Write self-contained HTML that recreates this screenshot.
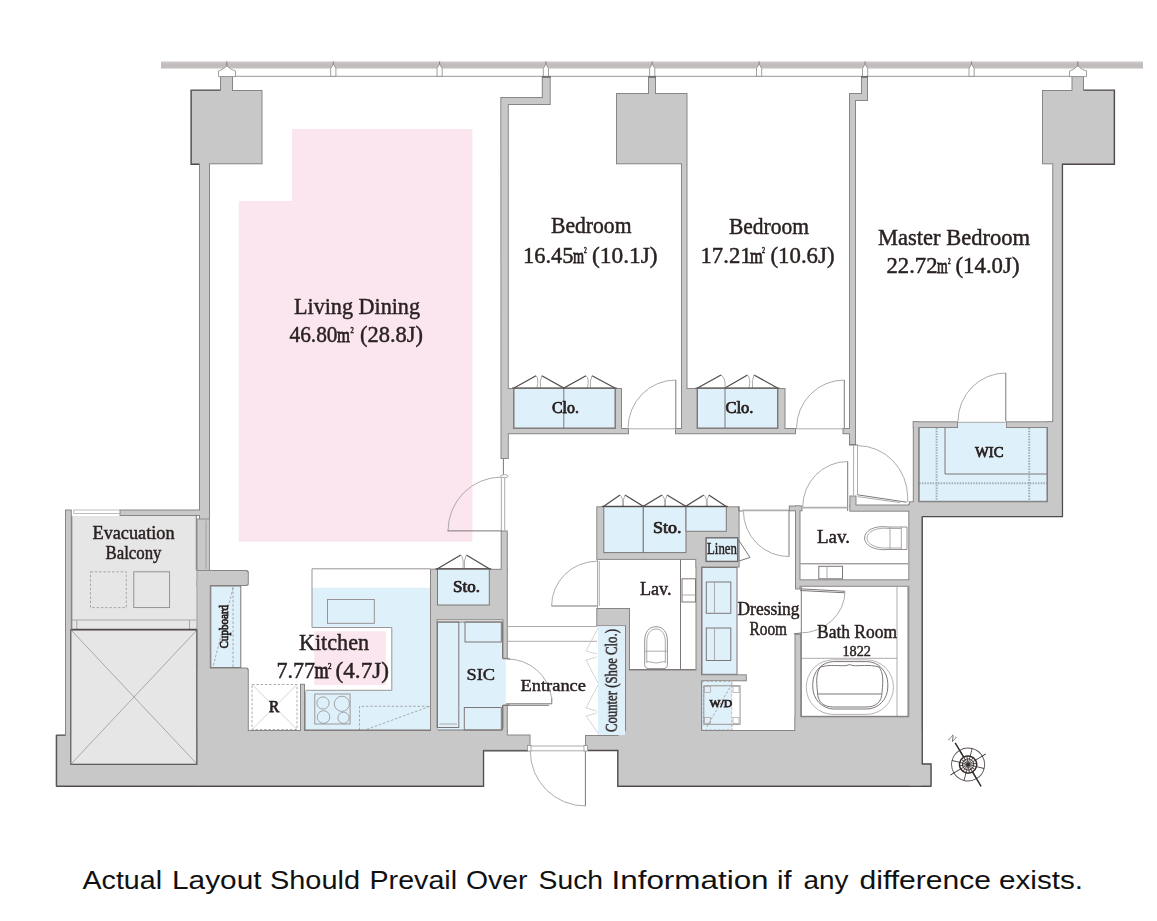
<!DOCTYPE html>
<html lang="en">
<head>
<meta charset="utf-8">
<title>Floor plan</title>
<style>
html,body{margin:0;padding:0;background:#ffffff;width:1157px;height:921px;overflow:hidden}
svg{display:block}
text{font-family:"Liberation Serif",serif;fill:#2a2121;stroke:#2a2121;stroke-width:0.45px}
.b{font-weight:normal;stroke-width:0.75px}
.ln{fill:none;stroke:#7d7777;stroke-width:1}
.lnl{fill:none;stroke:#a5a0a0;stroke-width:0.9}
.dk{fill:none;stroke:#514a4a;stroke-width:1.2}
.blue{fill:#def0fa}
.blo{fill:#def0fa;stroke:#7d7777;stroke-width:1}
.wh{fill:#ffffff;stroke:#7d7777;stroke-width:1}
.dash{fill:none;stroke:#9a9595;stroke-width:0.8;stroke-dasharray:2.5 1.8}
</style>
</head>
<body>
<svg width="1157" height="921" viewBox="0 0 1157 921">
<defs>
<linearGradient id="barg" x1="0" y1="0" x2="0" y2="1"><stop offset="0" stop-color="#d2cdcd"/><stop offset="0.35" stop-color="#c3bebe"/><stop offset="0.75" stop-color="#c1bcbc"/><stop offset="1" stop-color="#cbc6c6"/></linearGradient>
<filter id="er" x="-2%" y="-2%" width="104%" height="104%"><feMorphology operator="erode" radius="0.9"/></filter>
<g id="walls">
  <!-- column 1 + left wall -->
  <rect x="191" y="90" width="71.5" height="74.3"/>
  <rect x="220" y="76" width="13" height="15"/>
  <rect x="199" y="164" width="11" height="356"/>
  <!-- living/bed1 wall + closet 1 surround -->
  <polygon points="500.3,97 541.8,97 541.8,76 550.7,76 550.7,105 508.8,105 508.8,388 514,388 514,428 615,428 615,388 622,388 622,428 629,428 629,434.3 508.8,434.3 508.8,459 500.5,459"/>
  <!-- column 2 + wall + closet 2 -->
  <rect x="616" y="93" width="71.5" height="71.3"/>
  <rect x="648" y="76" width="8" height="18"/>
  <polygon points="681,164 687.5,164 687.5,388 697.5,388 697.5,428 777.5,428 777.5,388 785.5,388 785.5,428 796,428 796,434.3 675,434.3 675,428 681,428"/>
  <!-- bed2/master wall -->
  <polygon points="849,93 861,93 861,76 868,76 868,101 856,101 856,445 849,445 849,434.3 842.5,434.3 842.5,428 849,428"/>
  <!-- column 3 + master right wall -->
  <rect x="1042" y="90" width="72.5" height="74.3"/>
  <rect x="1071.5" y="76" width="12.5" height="15"/>
  <rect x="1052.2" y="164" width="10.6" height="353"/>
  <!-- WIC surround -->
  <rect x="912.8" y="421.3" width="45.2" height="6.7"/>
  <rect x="1005.8" y="421.3" width="47" height="6.7"/>
  <rect x="912.8" y="421.3" width="6.4" height="90"/>
  <rect x="1047" y="421.3" width="6" height="90"/>
  <rect x="908.8" y="501.3" width="154" height="15.7"/>
  <!-- right vertical wall -->
  <rect x="908.3" y="503.8" width="14.2" height="282.7"/>
  <rect x="908.3" y="763.8" width="23" height="22.7"/>
  <!-- right Lav walls -->
  <rect x="849.4" y="504.5" width="60" height="7.2"/>
  <rect x="849.4" y="495.5" width="7.1" height="12"/>
  <rect x="788.8" y="505.5" width="13.7" height="5.8"/>
  <rect x="795" y="505.5" width="5.5" height="84"/>
  <rect x="795" y="579.3" width="114" height="7.5"/>
  <!-- bath walls -->
  <rect x="794.5" y="633.8" width="6.8" height="97"/>
  <rect x="794.5" y="716.3" width="120" height="20"/>
  <!-- bottom mass right -->
  <rect x="617.5" y="730" width="305" height="56.5"/>
  <rect x="585" y="735" width="45" height="15.5"/>
  <rect x="625" y="608" width="5" height="130"/>
  <rect x="596.3" y="608" width="33.3" height="18.3"/>
  <rect x="629.5" y="669.5" width="72.5" height="62"/>
  <rect x="695.5" y="559" width="6.5" height="112"/>
  <rect x="702" y="674.3" width="44.8" height="7"/>
  <!-- Sto x3 surround -->
  <rect x="596.3" y="506.3" width="143.3" height="53.6"/>
  <rect x="695.5" y="559" width="44.1" height="8.5"/>
  <!-- kitchen / SIC -->
  <rect x="430" y="568.8" width="77.8" height="51.5"/>
  <rect x="430" y="568.8" width="7.5" height="163"/>
  <rect x="500.7" y="530.5" width="7.1" height="40"/>
  <rect x="502.5" y="620" width="5.3" height="38.8"/>
  <rect x="502.5" y="705" width="5.3" height="27"/>
  <rect x="437" y="727.5" width="66" height="4"/>
  <rect x="300" y="683.8" width="5" height="47"/>
  <!-- bottom mass left -->
  <rect x="196.3" y="730" width="287.5" height="56.5"/>
  <polygon points="483,730 507.8,730 507.8,734.5 530.5,734.5 530.5,750.8 483,750.8"/>
  <rect x="56.3" y="735" width="16" height="51.5"/>
  <rect x="65" y="509.5" width="6.8" height="230"/>
  <rect x="70" y="764" width="130" height="22.5"/>
  <rect x="119.5" y="509.5" width="80" height="6.5"/>
  <rect x="196.3" y="580" width="14.5" height="152"/>
  <path d="M196.3,667.5 H246.3 Q248.8,667.5 248.8,670 V732 H196.3 Z"/>
  <path d="M196.3,570 H246.3 Q248.8,570 248.8,572.5 V583.5 Q248.8,586 246.3,586 H196.3 Z"/>
</g>
</defs>

<!-- pink living area -->
<polygon points="292,129 472.4,129 472.4,541.8 238.8,541.8 238.8,201 292,201" fill="#fbe6ef"/>

<!-- top bar -->
<rect x="161" y="61.4" width="982" height="7.2" fill="url(#barg)"/>
<line x1="233" y1="76.3" x2="1072" y2="76.3" stroke="#8f8a8a" stroke-width="0.9"/>

<!-- walls: stroke pass then fill pass -->
<use href="#walls" fill="#8a8585" stroke="none"/>
<use href="#walls" fill="#c8c8c8" stroke="none" filter="url(#er)"/>

<!--FILLS-->
<g id="fills">
<!-- balcony -->
<rect x="71.8" y="516" width="124.5" height="114" fill="#e6e6e6"/>
<rect x="73.8" y="510" width="46" height="3.5" fill="#ffffff" stroke="#a5a0a0" stroke-width="0.7"/>
<rect x="70.8" y="630" width="126" height="134.3" fill="#e6e6e6" stroke="#5e5858" stroke-width="1.2"/>
<!-- left window section -->
<rect x="197" y="519" width="12.4" height="51.5" fill="#c8c8c8" stroke="#8b8686" stroke-width="0.9"/>
<line x1="206" y1="520.5" x2="206" y2="569" stroke="#9a9595" stroke-width="0.8"/>
<!-- cupboard -->
<rect x="210.8" y="586" width="30" height="81.5" class="blo"/>
<!-- R box -->
<rect x="251.5" y="684" width="46" height="46" fill="#ffffff"/>
<!-- kitchen -->
<polygon points="312,587.5 430,587.5 430,730 305,730 305,691.3 312,691.3" class="blue"/>
<rect x="312" y="568.8" width="118" height="18.7" fill="#ffffff"/>
<rect x="305.5" y="627.5" width="86.3" height="62.8" fill="#ffffff"/>
<rect x="314.3" y="631.3" width="71.5" height="53.7" fill="#fbe6ef"/>
<!-- Sto (kitchen) -->
<rect x="437.5" y="568.8" width="51.8" height="36.2" class="blo"/>
<!-- SIC -->
<rect x="437.5" y="622" width="65" height="108" class="blue"/>
<rect x="502" y="659.5" width="3.8" height="45" class="blue"/>
<!-- closets -->
<rect x="514" y="388.3" width="101" height="39.7" class="blo" stroke-width="1.2"/>
<rect x="697.5" y="388.3" width="80" height="39.7" class="blo" stroke-width="1.2"/>
<!-- WIC -->
<rect x="919.2" y="428" width="127.8" height="73.3" class="blue"/>
<rect x="958" y="422" width="47.8" height="7" class="blue"/>
<!-- Sto x3 -->
<rect x="603.8" y="506.8" width="39.5" height="45.8" class="blo" stroke-width="1.3"/>
<rect x="643.3" y="506.8" width="42.7" height="45.8" class="blo" stroke-width="1.3"/>
<rect x="686" y="506.8" width="40.3" height="24.5" class="blo" stroke-width="1.3"/>
<rect x="706.1" y="537.8" width="31.6" height="23.6" fill="#def0fa" stroke="#6f6969" stroke-width="1.4"/>
<!-- dressing cabinet -->
<rect x="702" y="567.5" width="35" height="106.8" class="blo"/>
<!-- W/D -->
<rect x="702" y="681.3" width="30" height="48.7" class="blue"/>
<!-- counter shoe -->
<rect x="598" y="626.3" width="27" height="108.7" class="blue"/>
</g>
<!--LINES-->
<g id="lines">
<!-- top window mullions -->
<g fill="#ffffff" stroke="#8b8686" stroke-width="0.8">
<path d="M330.7,76.3 V68.5 L333.3,64 L335.9,68.5 V76.3 Z"/><path d="M437.0,76.3 V68.5 L439.6,64 L442.2,68.5 V76.3 Z"/>
<path d="M543.3,76.3 V68.5 L545.9,64 L548.5,68.5 V76.3 Z"/><path d="M649.6,76.3 V68.5 L652.2,64 L654.8000000000001,68.5 V76.3 Z"/>
<path d="M756.5,76.3 V68.5 L759.1,64 L761.7,68.5 V76.3 Z"/><path d="M862.5,76.3 V68.5 L865.1,64 L867.7,68.5 V76.3 Z"/>
<path d="M969.0,76.3 V68.5 L971.6,64 L974.2,68.5 V76.3 Z"/>
<path d="M218.5,76.6 V71 L222,69.5 L226.8,66 L231.5,69.5 L235.5,71 V76.6 Z"/>
<path d="M1069.5,76.6 V71 L1073,69.5 L1077.8,66 L1082.5,69.5 L1086.5,71 V76.6 Z"/>
</g>
<g stroke="#6f6969" stroke-width="0.8" fill="none">
<path d="M226.8,66 V61.5 M333.3,64 V61.5 M439.6,64 V61.5 M545.9,64 V61.5 M652.2,64 V61.5 M759.1,64 V61.5 M865.1,64 V61.5 M971.6,64 V61.5 M1077.8,66 V61.5"/>
<path d="M542,77 H550.6 M648.6,77 H656 M861,77 H868" stroke="#6a6464" stroke-width="1.5"/>
</g>
<!-- column dark outlines -->
<path d="M220,90 H191 V164.3 H199" class="dk"/>
<path d="M1084,90 H1114.5 V164.3 H1062.5 V516.7 H922.5" class="dk" stroke-width="1"/>

<!-- closet 1 -->
<line x1="563.8" y1="388" x2="563.8" y2="428" class="ln" stroke-width="1.2"/>
<path d="M514,388 L536,375.8 M541.8,375.8 L563.8,388 L586,375.8 M592,375.8 L615,388" class="dk" stroke-width="1"/>
<path d="M536,375.8 Q539,378 537,388 M541.8,375.8 Q539.5,380 540.5,388 M586,375.8 Q589.5,378 587.5,388 M592,375.8 Q589.5,380 590.5,388" class="lnl"/>
<line x1="512" y1="388" x2="617" y2="388" class="dk"/>
<!-- door 1 -->
<path d="M628,428.5 A47.8,48.5 0 0 1 675.8,380" class="lnl"/>
<path d="M675.8,380 V429" class="ln" stroke-width="1.1"/>
<path d="M627,428.8 H676" class="lnl" stroke-width="1.1"/>
<!-- closet 2 -->
<line x1="725" y1="388" x2="725" y2="428" class="ln" stroke-width="1.2"/>
<path d="M697.5,388 L721,375 M725,388 L747.5,375 M754,375 L777.5,388" class="dk" stroke-width="1"/>
<path d="M721,375 Q726,378 725,388 M747.5,375 Q751,378 749,388 M754,375 Q751.5,380 752.5,388" class="lnl"/>
<line x1="695.5" y1="388" x2="779.5" y2="388" class="dk"/>
<!-- door 2 -->
<path d="M796.5,428.5 A47.8,48.5 0 0 1 844.3,380" class="lnl"/>
<path d="M844.3,380 V429" class="ln" stroke-width="1.1"/>
<path d="M796,428.8 H845" class="lnl" stroke-width="1.1"/>

<!-- master door -->
<path d="M853.6,445.5 V495 M857.5,445.5 V495" class="lnl"/>
<path d="M849,445 H858" class="ln"/>
<path d="M857.5,445.6 A50.2,52 0 0 1 907.7,497.6 V502" class="lnl"/>
<path d="M857.5,494.8 L906.6,502.2" class="ln" stroke-width="1"/><path d="M857.5,496.6 L900,502.6" class="lnl" stroke-width="0.6"/>
<!-- lav (right) door -->
<path d="M847.7,461.5 V511" class="ln" stroke-width="1.2"/>
<path d="M847.7,461.5 A45,45.5 0 0 0 802.7,507" class="lnl"/>
<path d="M802.7,507.6 H847.5" fill="none" stroke="#b3aeae" stroke-width="1.8"/>
<!-- dressing door -->
<path d="M742,510.3 H789" fill="none" stroke="#b3aeae" stroke-width="1.7"/>
<path d="M789,510.5 V556.6" class="ln" stroke-width="1.2"/>
<path d="M743.4,511 A45.6,45.6 0 0 0 789,556.6" class="lnl"/>
<path d="M738.8,506.3 V511 H742" class="ln"/>

<!-- WIC -->
<path d="M958,421.3 A47.8,48.3 0 0 1 1005.8,373" class="lnl"/>
<path d="M1005.8,373 V421.3" class="ln"/>
<path d="M958,422.3 H1005.8" class="lnl"/>
<path d="M945,428 V474 H1047" class="ln"/>
<path d="M936.6,428 V501 M1029.2,428 V501 M919.2,483.3 H1047" fill="none" stroke="#a3adb6" stroke-width="2" stroke-dasharray="1.5 1.2"/>
<path d="M919.2,428 V501.3 H1047 V428" class="ln"/>

<!-- living sliding door -->
<path d="M503.4,459 V474.5" class="ln" stroke-width="1.3"/>
<path d="M501.4,477.5 V531 M504.7,477.5 V531" class="lnl"/>
<ellipse cx="504.4" cy="476.2" rx="3.7" ry="1.5" fill="#ffffff" stroke="#8b8686" stroke-width="0.7"/>
<!-- living door -->
<path d="M448,530.9 A53.3,53.8 0 0 1 501.3,477.1" class="lnl"/>
<path d="M447.5,530.9 H501.5" class="ln" stroke-width="1.1"/>

<!-- Sto kitchen -->
<path d="M437.5,568.8 L460.8,555 M466.3,555 L489.3,568.8" class="dk" stroke-width="1"/>
<path d="M460.8,555 Q464,558 463,568.8 M466.3,555 Q463.5,560 464.5,568.8" class="lnl"/>
<line x1="435.5" y1="568.8" x2="491.3" y2="568.8" class="dk"/>

<!-- kitchen counter outline -->
<path d="M430,568.8 H312 V627.5 H391.8 V690.3 H305.5" fill="none" stroke="#9a9595" stroke-width="1"/>
<rect x="327.5" y="599.5" width="46.8" height="23.8" fill="none" stroke="#8f8a8a" stroke-width="0.9"/>
<!-- cooktop -->
<rect x="314.8" y="694" width="35.3" height="30" fill="none" stroke="#959090" stroke-width="0.9"/>
<g fill="none" stroke="#959090" stroke-width="0.8">
<circle cx="323" cy="703" r="6.1"/><circle cx="341.9" cy="703.8" r="7.6"/>
<circle cx="323.5" cy="717" r="6.3"/><circle cx="343.5" cy="717.8" r="5.6"/>
</g>
<path d="M359.5,730 V706.3 H430 L365,730" class="dash"/>
<path d="M305,730 H430" class="ln"/>
<path d="M305,691.3 V730" class="ln"/>
<!-- R box -->
<rect x="252" y="684.5" width="45" height="45" class="dash"/>
<path d="M252,684.5 L297,729.5 M297,684.5 L252,729.5" fill="none" stroke="#c4c0c0" stroke-width="0.7"/>
<!-- cupboard -->
<path d="M233,587 V667 M233,588 L213,667" class="dash"/>

<!-- SIC -->
<rect x="437.5" y="622" width="21.3" height="105.5" class="ln"/>
<path d="M439.5,724 H457" class="lnl"/>
<rect x="465" y="622" width="36.3" height="20" class="ln"/>
<rect x="464.3" y="707.5" width="37" height="22.5" class="ln"/>
<path d="M437.5,622 H502.5 V658.8 M502.5,705 V730 H437.5" class="ln"/>
<!-- SIC door -->
<path d="M507,659 A44.5,44 0 0 1 551.5,697.5" class="lnl"/>
<path d="M506,703.8 H551.8 V697.5 M506,705.3 H549" class="ln" stroke-width="0.8"/>
<path d="M503,658.8 H510 M503,705 H510" class="ln"/>
<!-- entrance hall lines -->
<path d="M597,626.5 H507.6 V641.3 H597" class="lnl"/>
<!-- main door -->
<path d="M527.5,746 H587.5 M527.5,750.8 H587.5" class="lnl"/>
<rect x="527.5" y="745.5" width="3.5" height="5.5" fill="#ffffff" stroke="#8b8686" stroke-width="0.7"/>
<rect x="584" y="745.5" width="3.5" height="5.5" fill="#ffffff" stroke="#8b8686" stroke-width="0.7"/>
<path d="M585.4,751.3 V806" class="ln" stroke-width="1.2"/>
<path d="M530.3,751.3 A55.1,54.7 0 0 0 585.4,806" class="lnl"/>
<!-- shoe closet bifold -->
<path d="M598,628 L586,651 L597,654 M597,657 L586,660 L598,683 M598,685 L586,708 L597,711 M597,713 L586,716 L598,733" fill="none" stroke="#cdc9c9" stroke-width="0.8"/>

<!-- left Lav -->
<path d="M597.5,559.5 V608 M599.3,561 V606" class="lnl"/>
<path d="M551.6,606 A45.6,44.8 0 0 1 597.2,561.2" class="lnl"/>
<path d="M551.6,606 H597.5" class="ln" stroke-width="1.1"/>
<path d="M680.5,559.5 V669.5 M629.5,669.5 H695.5" class="ln"/>
<rect x="682" y="578.8" width="13.5" height="23.2" class="wh" stroke-width="0.8"/>
<path d="M682,595 H695.5" class="lnl"/>
<!-- toilet left -->
<path d="M644.7,664.5 V641 C644.7,632 649,626.7 656,626.7 C663,626.7 667.4,632 667.4,641 V664.5 Q667.4,668.6 663.3,668.6 H648.8 Q644.7,668.6 644.7,664.5 Z" fill="#ffffff" stroke="#8b8686" stroke-width="0.9"/>
<path d="M646.8,663 V641.5 C646.8,634 650.5,629 656,629 C661.5,629 665.3,634 665.3,641.5 V663" class="lnl"/>
<path d="M645,651.2 H667 M647,661.5 Q656,664.5 665,661.5" class="lnl"/>
<!-- dressing cabinet sinks -->
<rect x="706.3" y="582" width="24.5" height="31.3" class="ln" stroke-width="0.9"/>
<line x1="714.5" y1="582" x2="714.5" y2="613.3" class="lnl"/>
<rect x="706.3" y="628" width="24.5" height="32.5" class="ln" stroke-width="0.9"/>
<line x1="714.5" y1="628" x2="714.5" y2="660.5" class="lnl"/>
<!-- linen door -->
<path d="M737.5,538.3 L750,557.5 L739,561" class="ln" stroke-width="0.9"/>
<!-- Sto x3 doors -->
<path d="M603.8,506.3 L620,495 M625,495 L643.3,506.3 L662,495 M667,495 L685.8,506.3 L703.8,495 M708.8,495 L725.8,506.3" class="dk" stroke-width="1"/>
<path d="M620,495 Q623.5,498 622.5,506.3 M625,495 Q622.5,499 623.5,506.3 M662,495 Q665.5,498 664.5,506.3 M667,495 Q664.5,499 665.5,506.3 M703.8,495 Q707.3,498 706.3,506.3 M708.8,495 Q706.3,499 707.3,506.3" class="lnl"/>
<line x1="601.8" y1="506.3" x2="727.8" y2="506.3" class="dk"/>

<!-- W/D -->
<rect x="702" y="681.3" width="30" height="48.7" class="dash"/>
<rect x="703.8" y="685.8" width="36.2" height="38.5" fill="none" stroke="#a5a0a0" stroke-width="0.8"/>
<rect x="732.3" y="686.3" width="7.4" height="37.5" fill="#ffffff" stroke="none"/>
<rect x="703.8" y="685.8" width="36.2" height="38.5" fill="none" stroke="#a5a0a0" stroke-width="0.8"/>
<g fill="none" stroke="#a5a0a0" stroke-width="0.7">
<rect x="704.5" y="686.5" width="6" height="6"/><rect x="733" y="686.5" width="6" height="6"/>
<rect x="704.5" y="717.5" width="6" height="6"/><rect x="733" y="717.5" width="6" height="6"/>
</g>
<path d="M732,684 L706,728" class="dash"/>

<!-- right Lav -->
<path d="M800.5,563.8 H908" class="ln" stroke-width="0.9"/>
<rect x="818.8" y="566.3" width="23.7" height="12.5" class="wh" stroke-width="0.9"/>
<line x1="827" y1="566.3" x2="827" y2="578.8" class="lnl"/>
<path d="M907,527 H888 C874,525 864.5,531 864.5,538 C864.5,545 874,551 888,549.5 H907 Z" fill="#ffffff" stroke="#8b8686" stroke-width="0.9"/>
<path d="M901.3,528.5 H889 C876,527 867,532 867,538 C867,544 876,549 889,548 H901.3" class="lnl"/>
<path d="M890,527 V549.5 M901.3,527 V549.5" class="lnl"/>

<!-- bath -->
<path d="M897,587 V716.3 M801.3,658.3 H897" class="lnl"/>
<path d="M801.3,587 V716.3 H908 V587" class="ln" stroke-width="0.9"/>
<path d="M800,588.8 L845,591.3 M800,590.5 L845,592.8" class="ln" stroke-width="0.7"/>
<path d="M845,591.5 A45,42 0 0 1 800,633" class="lnl"/>
<path d="M793.8,633.8 L801,633" class="ln"/>
<rect x="806.3" y="659.8" width="87.1" height="54.6" rx="27" ry="27" fill="#ffffff" stroke="#a5a0a0" stroke-width="0.8"/>
<rect x="812.8" y="661.6" width="75" height="47.4" rx="21" ry="22" class="ln" stroke-width="0.9"/>
<path d="M817.5,692 C816,680 816.5,672 820.5,667 C830,664.2 840,666.2 846,665.6 L849.5,664.6 L853,665.6 C859,666.2 869,664.2 879,667 C883,672 883.5,680 882,692 C882,702 876,707 866,707 H833.5 C823.5,707 817.5,702 817.5,692 Z" class="ln" stroke-width="0.9"/>
<path d="M817.8,694 H881.8" class="ln" stroke-width="1"/>

<!-- balcony -->
<rect x="90.5" y="571.8" width="35.8" height="35.8" class="dash" fill="none"/>
<rect x="133.8" y="571.8" width="35.8" height="35.8" fill="none" stroke="#8f8a8a" stroke-width="0.9"/>
<path d="M71.8,620 H196.3 M76.8,620 V629 M189.5,620 V629" class="lnl"/>
<path d="M70.8,629.3 H196.8" class="dk" stroke-width="1.6" stroke="#6b6565"/>
<path d="M72,631 L196,763 M196,631 L72,763" class="lnl" stroke-width="0.8"/>
<path d="M71.8,516 V630 M196.3,516 V570" class="ln"/>
<path d="M56.3,735 H65 M56.3,735 V786.5" class="dk" stroke-width="1"/>
<path d="M56.3,786.3 H483.6 V750.9 H527.5" class="dk" stroke-width="1"/>
<path d="M588,750.6 H617.7 V786.3 H931.3" class="dk" stroke-width="1"/>
<path d="M922.3,516.7 V763.8 H931.1 V786.3" class="dk" stroke-width="1"/>

<!-- compass -->
<g transform="translate(968.1,764.5) rotate(-30.8)" stroke="#352c2c" fill="none" opacity="0.999">
<circle r="16.5" stroke="#5d5555" stroke-width="0.9"/>
<path d="M0.00,-8.50 L0.00,-16.50 M6.01,-6.01 L11.67,-11.67 M8.50,-0.00 L16.50,-0.00 M6.01,6.01 L11.67,11.67 M0.00,8.50 L0.00,16.50 M-6.01,6.01 L-11.67,11.67 M-8.50,0.00 L-16.50,0.00 M-6.01,-6.01 L-11.67,-11.67 " stroke="#4a4242" stroke-width="0.9"/>
<circle r="8.6" stroke-width="1.5"/>
<circle r="5.6" stroke-width="0.9"/>
<path d="M-0.00,8.50 L0.00,-8.50 M-3.25,7.85 L3.25,-7.85 M-6.01,6.01 L6.01,-6.01 M-7.85,3.25 L7.85,-3.25 M-8.50,0.00 L8.50,-0.00 M-7.85,-3.25 L7.85,3.25 M-6.01,-6.01 L6.01,6.01 M-3.25,-7.85 L3.25,7.85 " stroke-width="0.75"/>
<circle r="1.6" fill="#352c2c" stroke="none"/>
<path d="M0,-8 V-25.2 M0,8 V25.4" stroke-width="1.5"/>
<path d="M-20.6,0 H-16 M16,0 H20.6" stroke-width="0.9"/>
<text x="-3.6" y="-27.2" font-size="9.5" textLength="7" lengthAdjust="spacingAndGlyphs" style="font-family:'Liberation Serif',serif;font-style:italic;fill:#6a6262;stroke:none" transform="rotate(62 0 -30.5)">N</text>
</g>
</g>
<!--TEXT-->
<g id="btext" style="font-family:'Liberation Sans',sans-serif;fill:#111111;stroke:none" font-size="26.3">
<text x="82.50" y="888.8" textLength="79.51" lengthAdjust="spacingAndGlyphs" style="font-family:'Liberation Sans',sans-serif;fill:#111111;stroke:none">Actual</text>
<text x="172.00" y="888.8" textLength="89.50" lengthAdjust="spacingAndGlyphs" style="font-family:'Liberation Sans',sans-serif;fill:#111111;stroke:none">Layout</text>
<text x="270.00" y="888.8" textLength="90.06" lengthAdjust="spacingAndGlyphs" style="font-family:'Liberation Sans',sans-serif;fill:#111111;stroke:none">Should</text>
<text x="369.50" y="888.8" textLength="87.59" lengthAdjust="spacingAndGlyphs" style="font-family:'Liberation Sans',sans-serif;fill:#111111;stroke:none">Prevail</text>
<text x="466.00" y="888.8" textLength="61.50" lengthAdjust="spacingAndGlyphs" style="font-family:'Liberation Sans',sans-serif;fill:#111111;stroke:none">Over</text>
<text x="538.50" y="888.8" textLength="64.56" lengthAdjust="spacingAndGlyphs" style="font-family:'Liberation Sans',sans-serif;fill:#111111;stroke:none">Such</text>
<text x="611.50" y="888.8" textLength="157.09" lengthAdjust="spacingAndGlyphs" style="font-family:'Liberation Sans',sans-serif;fill:#111111;stroke:none">Information</text>
<text x="777.00" y="888.8" textLength="14.55" lengthAdjust="spacingAndGlyphs" style="font-family:'Liberation Sans',sans-serif;fill:#111111;stroke:none">if</text>
<text x="803.50" y="888.8" textLength="45.00" lengthAdjust="spacingAndGlyphs" style="font-family:'Liberation Sans',sans-serif;fill:#111111;stroke:none">any</text>
<text x="859.50" y="888.8" textLength="131.52" lengthAdjust="spacingAndGlyphs" style="font-family:'Liberation Sans',sans-serif;fill:#111111;stroke:none">difference</text>
<text x="999.00" y="888.8" textLength="84.12" lengthAdjust="spacingAndGlyphs" style="font-family:'Liberation Sans',sans-serif;fill:#111111;stroke:none">exists.</text>
</g>
<g id="labels" opacity="0.999">
<text x="294.0" y="314" font-size="22.8" textLength="126.0" lengthAdjust="spacingAndGlyphs">Living Dining</text>
<text x="289.5" y="342" font-size="22.8" textLength="48.03" lengthAdjust="spacingAndGlyphs">46.80</text>
<text x="337.0" y="342" font-size="22" textLength="13.0" lengthAdjust="spacingAndGlyphs" style="stroke-width:0.8px">m</text>
<text x="350.5" y="332.7" font-size="8.5" textLength="3.27" lengthAdjust="spacingAndGlyphs" style="stroke-width:0.6px">2</text>
<text x="360.0" y="342" font-size="22.8" textLength="62.98" lengthAdjust="spacingAndGlyphs">(28.8J)</text>
<text x="551.0" y="233.4" font-size="22.5" textLength="80.49" lengthAdjust="spacingAndGlyphs">Bedroom</text>
<text x="523.0" y="262.6" font-size="22.5" textLength="50.54" lengthAdjust="spacingAndGlyphs">16.45</text>
<text x="573.0" y="262.6" font-size="21.5" textLength="11.07" lengthAdjust="spacingAndGlyphs" style="stroke-width:0.8px">m</text>
<text x="584.0" y="253.4" font-size="8" textLength="2.78" lengthAdjust="spacingAndGlyphs" style="stroke-width:0.6px">2</text>
<text x="592.0" y="262.6" font-size="22.5" textLength="65.51" lengthAdjust="spacingAndGlyphs">(10.1J)</text>
<text x="729.0" y="234" font-size="22.5" textLength="80.0" lengthAdjust="spacingAndGlyphs">Bedroom</text>
<text x="700.5" y="262.5" font-size="22.5" textLength="51.09" lengthAdjust="spacingAndGlyphs">17.21</text>
<text x="750.0" y="262.5" font-size="21.5" textLength="12.61" lengthAdjust="spacingAndGlyphs" style="stroke-width:0.8px">m</text>
<text x="762.0" y="253.3" font-size="8" textLength="3.0" lengthAdjust="spacingAndGlyphs" style="stroke-width:0.6px">2</text>
<text x="770.5" y="262.5" font-size="22.5" textLength="64.0" lengthAdjust="spacingAndGlyphs">(10.6J)</text>
<text x="878.0" y="244.8" font-size="22.5" textLength="152.0" lengthAdjust="spacingAndGlyphs">Master Bedroom</text>
<text x="886.5" y="273.4" font-size="22.5" textLength="50.98" lengthAdjust="spacingAndGlyphs">22.72</text>
<text x="937.0" y="273.4" font-size="21.5" textLength="10.63" lengthAdjust="spacingAndGlyphs" style="stroke-width:0.8px">m</text>
<text x="948.0" y="264.2" font-size="8" textLength="2.6" lengthAdjust="spacingAndGlyphs" style="stroke-width:0.6px">2</text>
<text x="955.5" y="273.4" font-size="22.5" textLength="64.0" lengthAdjust="spacingAndGlyphs">(14.0J)</text>
<text x="299.0" y="649.7" font-size="23.6" textLength="70.0" lengthAdjust="spacingAndGlyphs">Kitchen</text>
<text x="276.5" y="678.3" font-size="23.4" textLength="38.51" lengthAdjust="spacingAndGlyphs">7.77</text>
<text x="314.5" y="678.3" font-size="22.5" textLength="14.09" lengthAdjust="spacingAndGlyphs" style="stroke-width:0.8px">m</text>
<text x="328.0" y="668.7" font-size="8.5" textLength="3.49" lengthAdjust="spacingAndGlyphs" style="stroke-width:0.6px">2</text>
<text x="335.5" y="678.3" font-size="23.4" textLength="53.5" lengthAdjust="spacingAndGlyphs">(4.7J)</text>
<text x="92.5" y="539.4" font-size="17.8" textLength="82.0" lengthAdjust="spacingAndGlyphs">Evacuation</text>
<text x="105.5" y="558.6" font-size="17.8" textLength="56.04" lengthAdjust="spacingAndGlyphs">Balcony</text>
<text x="552.0" y="412.6" font-size="16" textLength="26.96" lengthAdjust="spacingAndGlyphs" class="b">Clo.</text>
<text x="725.5" y="412.6" font-size="16" textLength="27.96" lengthAdjust="spacingAndGlyphs" class="b">Clo.</text>
<text x="975.0" y="457" font-size="15.2" textLength="28.53" lengthAdjust="spacingAndGlyphs" class="b">WIC</text>
<text x="453.0" y="592" font-size="16" textLength="26.96" lengthAdjust="spacingAndGlyphs" class="b">Sto.</text>
<text x="653.0" y="532.8" font-size="16" textLength="28.5" lengthAdjust="spacingAndGlyphs" class="b">Sto.</text>
<text x="707.0" y="553.6" font-size="16.5" textLength="29.98" lengthAdjust="spacingAndGlyphs">Linen</text>
<text x="640.0" y="595" font-size="18.3" textLength="31.47" lengthAdjust="spacingAndGlyphs">Lav.</text>
<text x="817.0" y="542.6" font-size="18.3" textLength="33.0" lengthAdjust="spacingAndGlyphs">Lav.</text>
<text x="737.5" y="614.6" font-size="17.8" textLength="62.0" lengthAdjust="spacingAndGlyphs">Dressing</text>
<text x="749.5" y="635.1" font-size="17.8" textLength="37.49" lengthAdjust="spacingAndGlyphs">Room</text>
<text x="817.0" y="638.3" font-size="18.2" textLength="80.01" lengthAdjust="spacingAndGlyphs">Bath Room</text>
<text x="842.5" y="655.6" font-size="14.5" textLength="28.47" lengthAdjust="spacingAndGlyphs">1822</text>
<text x="466.5" y="680.3" font-size="16" textLength="28.54" lengthAdjust="spacingAndGlyphs">SIC</text>
<text x="520.5" y="691.1" font-size="17.6" textLength="65.48" lengthAdjust="spacingAndGlyphs">Entrance</text>
<text x="0" y="0" font-size="16.5" textLength="102.9" lengthAdjust="spacingAndGlyphs" transform="translate(616.8,732) rotate(-90)">Counter (Shoe Clo.)</text>
<text x="0" y="0" font-size="13.5" textLength="43.6" lengthAdjust="spacingAndGlyphs" class="b" transform="translate(228,648.5) rotate(-90)">Cupboard</text>
<text x="709.5" y="707" font-size="10.7" textLength="22.56" lengthAdjust="spacingAndGlyphs" class="b">W/D</text>
<text x="269.0" y="712" font-size="16" textLength="10.14" lengthAdjust="spacingAndGlyphs" class="b">R</text>
</g>
</svg>
</body>
</html>
